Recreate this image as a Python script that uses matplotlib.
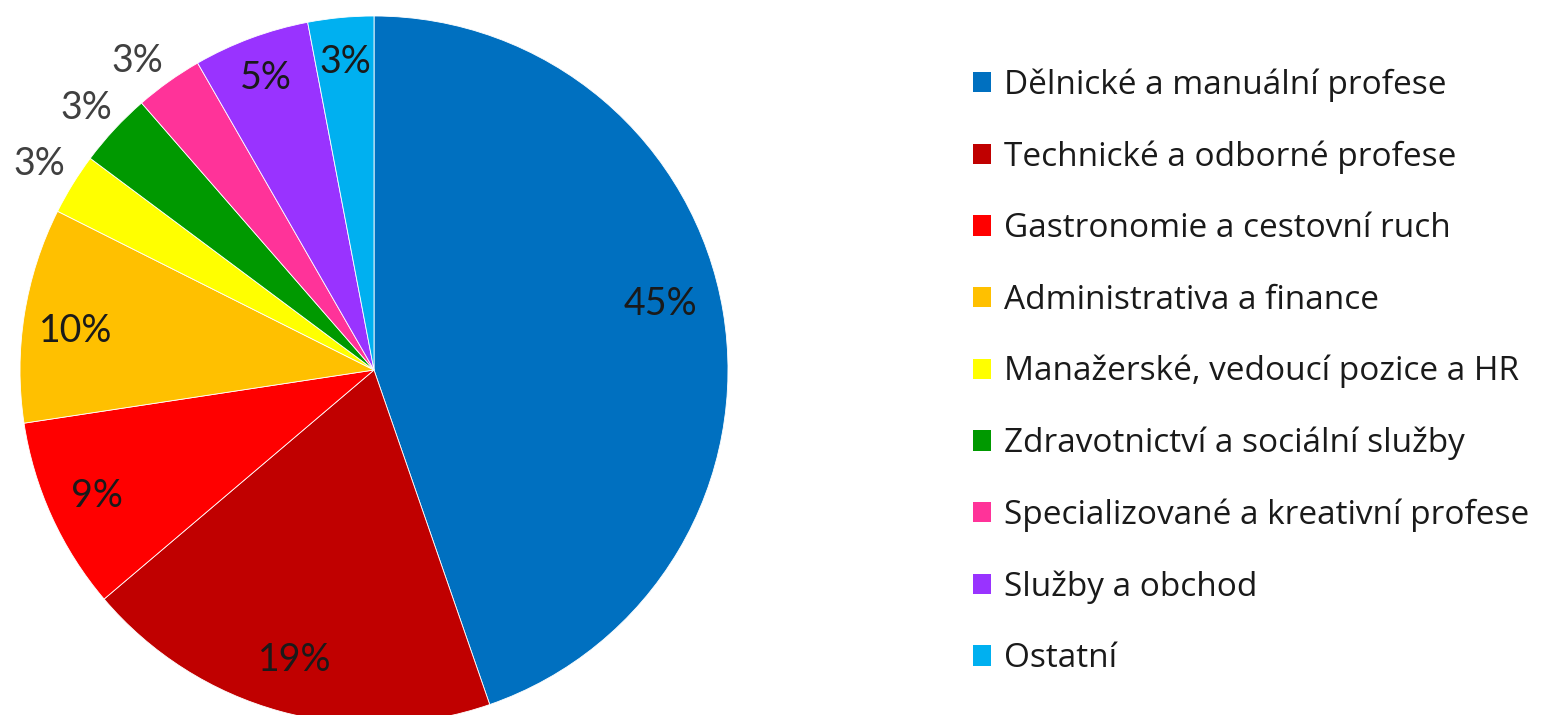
import numpy as np
import matplotlib.pyplot as plt
from matplotlib.patches import Patch

plt.rcParams['font.family'] = ['Lato', 'DejaVu Sans']

# categories and shares (percent)
categories = [
    "Dělnické a manuální profese",
    "Technické a odborné profese",
    "Gastronomie a cestovní ruch",
    "Administrativa a finance",
    "Manažerské, vedoucí pozice a HR",
    "Zdravotnictví a sociální služby",
    "Specializované a kreativní profese",
    "Služby a obchod",
    "Ostatní",
]
shares = [44.7, 19.1, 8.8, 9.8, 2.8, 3.4, 3.1, 5.3, 3.0]
pct_labels = ["45%", "19%", "9%", "10%", "3%", "3%", "3%", "5%", "3%"]

colors = ["#0070C0", "#C00000", "#FF0000", "#FFC000", "#FFFF00",
          "#009900", "#FF3399", "#9933FF", "#00B0F0"]
# distance of each percent label from the centre (pie radius = 1)
label_dist = [0.83, 0.85, 0.86, 0.85, 1.11, 1.10, 1.10, 0.88, 0.875]
# small angular nudge (deg) of some labels, as the source placed them
label_turn = [3.5, 0, 0, 1.5, 0, 0.5, 2, 0, 0]

W, H = 1553, 715
fig = plt.figure(figsize=(W / 100, H / 100), dpi=100)
fig.set_facecolor("white")

# pie axes placed in pixels: centre (374, 370), radius 354
cx, cy, r = 374, 370, 354
ax = fig.add_axes([(cx - r) / W, (H - cy - r) / H, 2 * r / W, 2 * r / H])
wedges, _ = ax.pie(shares, colors=colors, startangle=90, counterclock=False,
                   wedgeprops=dict(edgecolor="white", linewidth=0.6))
ax.set_xlim(-1, 1)
ax.set_ylim(-1, 1)
ax.set_aspect("equal")
ax.axis("off")

## percent labels
for w, lab, d, t in zip(wedges, pct_labels, label_dist, label_turn):
    mid = np.deg2rad((w.theta1 + w.theta2) / 2 + t)
    col = "#1a1a1a" if d < 1 else "#404040"
    ax.text(d * np.cos(mid), d * np.sin(mid), lab, ha="center", va="center",
            fontsize=27, color=col, clip_on=False)

## legend
handles = [Patch(facecolor=c, edgecolor="none") for c in colors]
fig.legend(handles, categories, loc="upper left",
           bbox_to_anchor=(956 / W, 1 - 52 / H), frameon=False,
           prop=dict(family="Open Sans", size=24), labelcolor="#1a1a1a",
           handlelength=0.55, handleheight=0.55, handletextpad=0.4,
           labelspacing=1.15, borderpad=0)

fig.savefig("out.png", dpi=100)
